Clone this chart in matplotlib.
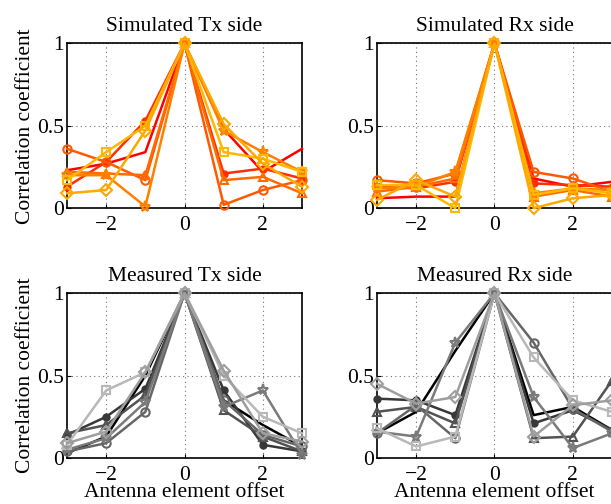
import matplotlib
matplotlib.use('Agg')
import matplotlib.pyplot as plt
import numpy as np

plt.rcParams['font.family'] = ['Liberation Serif', 'DejaVu Serif']
plt.rcParams['mathtext.fontset'] = 'stix'

# Antenna element offsets
offsets = [-3, -2, -1, 0, 1, 2, 3]

# Simulated Tx side (one curve per series)
sim_tx = [
    [0.23, 0.27, 0.34, 1.0, 0.48, 0.22, 0.36],
    [0.13, 0.28, 0.53, 1.0, 0.21, 0.24, 0.18],
    [0.36, 0.28, 0.17, 1.0, 0.02, 0.11, 0.17],
    [0.22, 0.21, 0.20, 1.0, 0.17, 0.19, 0.09],
    [0.20, 0.20, 0.01, 1.0, 0.47, 0.34, 0.22],
    [0.17, 0.34, 0.50, 1.0, 0.34, 0.30, 0.22],
    [0.09, 0.11, 0.47, 1.0, 0.51, 0.27, 0.13],
]

# Simulated Rx side
sim_rx = [
    [0.06, 0.07, 0.07, 1.0, 0.18, 0.13, 0.16],
    [0.13, 0.12, 0.16, 1.0, 0.15, 0.14, 0.13],
    [0.17, 0.15, 0.21, 1.0, 0.22, 0.18, 0.10],
    [0.10, 0.13, 0.18, 1.0, 0.07, 0.11, 0.07],
    [0.12, 0.13, 0.22, 1.0, 0.09, 0.12, 0.11],
    [0.14, 0.14, 0.00, 1.0, 0.08, 0.12, 0.09],
    [0.05, 0.17, 0.07, 1.0, 0.00, 0.06, 0.08],
]

# Measured Tx side
meas_tx = [
    [0.03, 0.13, 0.50, 1.0, 0.35, 0.20, 0.07],
    [0.14, 0.25, 0.42, 1.0, 0.41, 0.08, 0.04],
    [0.15, 0.20, 0.38, 1.0, 0.29, 0.13, 0.04],
    [0.04, 0.09, 0.28, 1.0, 0.35, 0.14, 0.07],
    [0.05, 0.12, 0.34, 1.0, 0.31, 0.41, 0.02],
    [0.08, 0.41, 0.52, 1.0, 0.50, 0.25, 0.15],
    [0.09, 0.16, 0.52, 1.0, 0.53, 0.15, 0.10],
]

# Measured Rx side
meas_rx = [
    [0.15, 0.28, 0.65, 1.0, 0.26, 0.31, 0.17],
    [0.36, 0.35, 0.26, 1.0, 0.21, 0.29, 0.17],
    [0.28, 0.31, 0.21, 1.0, 0.12, 0.13, 0.47],
    [0.15, 0.32, 0.12, 1.0, 0.70, 0.30, 0.16],
    [0.16, 0.13, 0.70, 1.0, 0.37, 0.06, 0.15],
    [0.18, 0.07, 0.13, 1.0, 0.61, 0.35, 0.28],
    [0.45, 0.33, 0.37, 1.0, 0.13, 0.32, 0.35],
]

titles = ['Simulated Tx side', 'Simulated Rx side', 'Measured Tx side', 'Measured Rx side']
markers = ['', '.', 'o', '^', '*', 's', 'D']
warm = [(1, 0, 0), (1, 0.18, 0), (1, 0.35, 0), (1, 0.42, 0), (1, 0.5, 0), (1, 0.72, 0), (1, 0.66, 0)]
gray = [(0, 0, 0), (0.22,) * 3, (0.32,) * 3, (0.4,) * 3, (0.48,) * 3, (0.72,) * 3, (0.62,) * 3]
meas_order = ['', '.', '^', 'o', '*', 's', 'D']

fig = plt.figure(figsize=(6.11, 5.04), dpi=100)
positions = [[0.1097, 0.587, 0.3846, 0.327], [0.617, 0.587, 0.3846, 0.327],
             [0.1097, 0.0913, 0.3846, 0.327], [0.617, 0.0913, 0.3846, 0.327]]
datasets = [sim_tx, sim_rx, meas_tx, meas_rx]
fs = 15.5

for k, (pos, data) in enumerate(zip(positions, datasets)):
    ax = fig.add_axes(pos)
    cols = warm if k < 2 else gray
    mks = markers if k < 2 else meas_order
    for s, series in enumerate(data):
        m = mks[s]
        ms = 9 if m == '.' else (8 if m == '*' else 6)
        mfc = cols[s] if m == '.' else 'none'
        ax.plot(offsets, series, color=cols[s], marker=m if m else None, lw=1.8,
                ms=ms, mfc=mfc, mew=1.5, clip_on=False, zorder=3)
    ax.set_xlim(-3, 3)
    ax.set_ylim(0, 1)
    ax.set_xticks([-2, 0, 2])
    ax.set_yticks([0, 0.5, 1])
    ax.set_yticklabels(['0', '0.5', '1'])
    ax.grid(True, linestyle=(0, (1, 3)), color='0.45', lw=0.8)
    ax.tick_params(direction='in', labelsize=fs, length=3, pad=2)
    ax.tick_params(axis='x', pad=6)
    for sp in ax.spines.values():
        sp.set_linewidth(1.2)
    ax.set_title(titles[k], fontsize=fs, pad=9)
    if k % 2 == 0:
        ax.set_ylabel('Correlation coefficient', fontsize=fs, labelpad=2)
    if k >= 2:
        ax.set_xlabel('Antenna element offset', fontsize=fs, labelpad=-2)

fig.savefig('out.png', dpi=100)
